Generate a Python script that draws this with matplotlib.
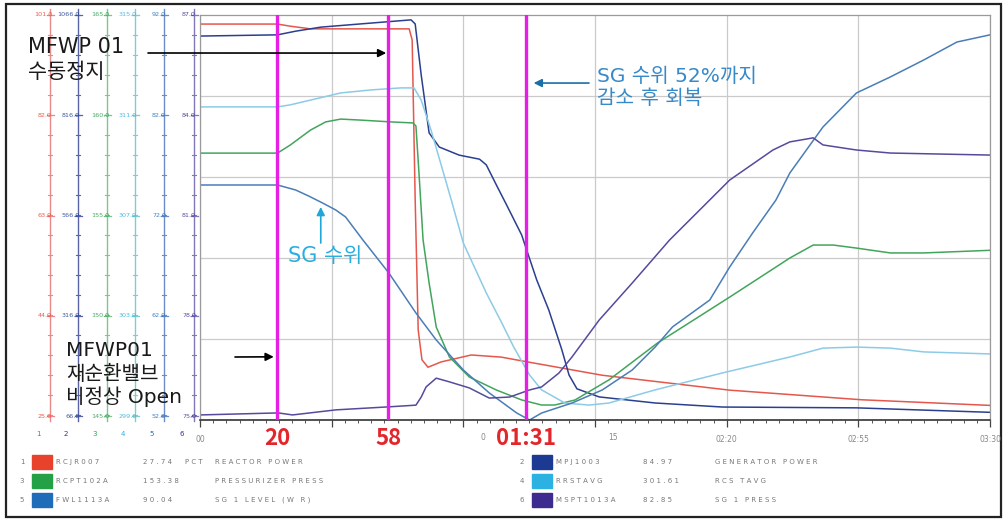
import numpy as np
import matplotlib
matplotlib.use("Agg")
import matplotlib.pyplot as plt
from matplotlib.patches import Rectangle
from matplotlib.transforms import blended_transform_factory

plt.rcParams['font.family'] = ['Noto Sans CJK KR', 'DejaVu Sans']
NOTE_FONT = ['DejaVu Sans', 'Noto Sans CJK KR']

# trend channels 1..6
chan_tag = ["RCJR007", "MPJ1003", "RCPT102A", "RRSTAVG", "FWL1113A", "MSPT1013A"]
chan_unit = ["PCT", "", "", "", "", ""]
chan_desc = ["REACTOR POWER", "GENERATOR POWER", "PRESSURIZER PRESS",
             "RCS TAVG", "SG 1 LEVEL (W R)", "SG 1 PRESS"]
scale_lo = [25.0, 66.0, 145.0, 299.0, 52.0, 75.0]
scale_hi = [101.0, 1066.0, 165.0, 315.0, 92.0, 87.0]
line_col = ["#e5574c", "#2b3f8f", "#43a45c", "#8ccbe6", "#4a7db6", "#564a9c"]
swatch_col = ["#e8412c", "#1d3a92", "#24a046", "#2bb1e2", "#1f6cb8", "#3e2b90"]
axis_col = ["#e88a8a", "#5a63a8", "#80c490", "#80cccc", "#6c8cc8", "#8078b8"]

# time in seconds from trend start
power_t = [0, 20.6, 24.0, 29.4, 55.6, 56.4, 57.2, 58.0, 59.0, 60.6, 64.1, 72.1, 80.1, 85.5,
           106.9, 140.8, 175.8, 210]
power = [99.3, 99.3, 98.9, 98.4, 98.4, 96.3, 66.3, 41.9, 36.3, 34.9, 35.9, 37.2, 36.8, 36.1,
         33.4, 30.6, 28.8, 27.74]

gen_t = [0, 20.6, 25.4, 32.1, 42.7, 52.1, 56.1, 57.2, 58.8, 60.9, 63.6, 68.9, 74.3, 76.1,
         78.8, 81.5, 85.5, 89.5, 92.7, 96.2, 98.1, 100.2, 106.1, 121.0, 138.9, 174.5, 210]
gen = [1014, 1017, 1026, 1036, 1044, 1051, 1054, 1044, 918, 775, 740, 720, 710, 696,
       646, 597, 523, 412, 338, 239, 177, 143, 123, 108, 98, 96, 84.97]

prz_t = [0, 20.6, 24.0, 29.4, 33.4, 37.4, 42.7, 50.8, 56.6, 57.4, 58.2, 59.3, 60.9, 62.8,
         66.3, 71.6, 78.8, 85.5, 90.8, 94.3, 99.7, 108.7, 121.6, 140.8, 156.8, 163.0, 168.3,
         174.5, 183.5, 192.4, 210]
prz = [158.18, 158.18, 158.58, 159.32, 159.72, 159.86, 159.81, 159.72, 159.67, 159.52,
       157.22, 153.89, 151.77, 149.59, 148.11, 147.12, 146.48, 145.99, 145.74, 145.74,
       145.99, 146.98, 148.80, 151.07, 153.00, 153.64, 153.64, 153.49, 153.25, 153.25, 153.38]

tavg_t = [0, 20.6, 24.0, 29.4, 37.4, 45.4, 53.4, 56.9, 58.8, 61.4, 64.1, 66.8, 70.0, 76.1,
          80.1, 83.4, 87.6, 90.8, 97.0, 103.4, 108.7, 121.0, 138.9, 156.8, 165.6, 174.5,
          183.5, 192.4, 210]
tavg = [311.37, 311.37, 311.45, 311.64, 311.92, 312.04, 312.12, 312.12, 311.64, 310.46,
        309.08, 307.69, 305.99, 304.02, 302.87, 301.88, 300.78, 300.19, 299.67, 299.59,
        299.67, 300.19, 300.86, 301.49, 301.84, 301.88, 301.84, 301.69, 301.61]

level_t = [0, 20.6, 25.4, 28.9, 32.6, 36.1, 38.7, 43.3, 50.2, 57.4, 62.8, 70.0, 76.9, 84.2,
           87.6, 90.8, 98.9, 106.9, 114.9, 121.0, 125.6, 135.5, 140.8, 146.9, 153.1, 156.8,
           165.6, 174.5, 183.5, 192.4, 201.2, 210]
level = [75.21, 75.21, 74.72, 74.12, 73.43, 72.74, 72.05, 69.78, 66.52, 62.57, 59.90, 56.94,
         54.67, 52.69, 52.0, 52.69, 53.68, 54.96, 56.94, 59.21, 61.19, 63.85, 67.11, 70.47,
         73.73, 76.40, 80.94, 84.30, 85.88, 87.56, 89.33, 90.04]

sgp_t = [0, 20.8, 24.6, 36.1, 50.2, 57.4, 58.8, 60.1, 62.8, 66.3, 71.6, 76.9, 82.3, 87.6,
         90.8, 95.4, 98.9, 106.1, 114.9, 124.8, 135.5, 140.8, 152.3, 156.8, 163.0, 165.6,
         174.5, 183.5, 210]
sgp = [75.15, 75.21, 75.15, 75.30, 75.39, 75.44, 75.68, 75.98, 76.24, 76.13, 75.95, 75.65,
       75.68, 75.89, 75.98, 76.39, 76.87, 77.96, 79.06, 80.33, 81.52, 82.11, 83.00, 83.24,
       83.36, 83.15, 83.00, 82.91, 82.85]

series_t = [power_t, gen_t, prz_t, tavg_t, level_t, sgp_t]
series_v = [power, gen, prz, tavg, level, sgp]

# event markers
event_pos = [20.6, 50.0, 86.6]
event_label = ["20", "58", "01:31"]

x_ticks = [0, 35, 70, 105, 140, 175, 210]
x_ticklabels = ["00", "", "", "", "02:20", "02:55", "03:30"]

W, H = 1008, 520
fig = plt.figure(figsize=(W / 100, H / 100), dpi=100)

# pixel-coordinate layer for frame, scales and legend
ov = fig.add_axes([0, 0, 1, 1], zorder=-1)
ov.set_xlim(0, W)
ov.set_ylim(H, 0)
ov.axis('off')
ov.add_patch(Rectangle((6, 4), 995, 513, fill=False, ec='#222222', lw=1.6))

# stacked y scales on the left
col_x = [50, 78, 107, 135, 164, 194]
row_y = np.linspace(15, 416, 5)
for i, x in enumerate(col_x):
    c = axis_col[i]
    ov.plot([x, x], [9, 421], color=c, lw=1.0)
    for y in np.arange(15, 420, 20):
        ov.plot([x - 2, x + 2], [y, y], color=c, lw=0.8)
    for k, y in enumerate(row_y):
        v = scale_hi[i] - k * (scale_hi[i] - scale_lo[i]) / 4
        ov.plot([x - 3.5, x + 3.5], [y, y], color=c, lw=0.9)
        ov.text(x + 2, y, f"{v:.1f}", ha='right', va='center', fontsize=4.6,
                color=swatch_col[i], family='DejaVu Sans', alpha=0.85)
    ov.text(x - 12, 434, str(i + 1), ha='center', va='center', fontsize=5,
            color=swatch_col[i], family='DejaVu Sans')

# legend table
legend_rows = [462, 481, 500]
groups = [(0, [0, 2, 4]), (500, [1, 3, 5])]
for dx, chans in groups:
    for y, ch in zip(legend_rows, chans):
        txt = dict(va='center', fontsize=5, color='#777777', family='DejaVu Sans')
        ov.text(22 + dx, y, str(ch + 1), ha='center', **txt)
        ov.add_patch(Rectangle((32 + dx, y - 7), 20, 14, color=swatch_col[ch]))
        ov.text(56 + dx, y, " ".join(chan_tag[ch]), ha='left', **txt)
        ov.text(143 + dx, y, " ".join(f"{series_v[ch][-1]:.2f}"), ha='left', **txt)
        if chan_unit[ch]:
            ov.text(185 + dx, y, " ".join(chan_unit[ch]), ha='left', **txt)
        ov.text(215 + dx, y, " ".join(chan_desc[ch]), ha='left', **txt)

# trend area
ax = fig.add_axes([200 / W, (H - 420) / H, 790 / W, 405 / H])
ax.set_xlim(0, 210)
ax.set_ylim(0, 1)
ax.set_xticks(x_ticks)
ax.set_xticklabels(x_ticklabels, fontsize=5.5, color='#888888', family='DejaVu Sans')
ax.set_xticks(np.arange(0, 210.01, 3.5), minor=True)
ax.set_yticks([0.2, 0.4, 0.6, 0.8])
ax.set_yticklabels([])
ax.tick_params(axis='x', which='major', direction='out', length=5, width=0.9,
               color='#444444', pad=6)
ax.tick_params(axis='x', which='minor', direction='out', length=2.5, width=0.7,
               color='#555555')
ax.tick_params(axis='y', length=0)
ax.grid(True, color='#cacaca', lw=0.9)
for s in ['top', 'right', 'left']:
    ax.spines[s].set_color('#9a9a9a')
    ax.spines[s].set_linewidth(0.9)
ax.spines['bottom'].set_color('#333333')
ax.spines['bottom'].set_linewidth(1.2)

for i in range(6):
    t = np.asarray(series_t[i])
    v = np.asarray(series_v[i])
    ax.plot(t, (v - scale_lo[i]) / (scale_hi[i] - scale_lo[i]),
            color=line_col[i], lw=1.1, zorder=2)

below = blended_transform_factory(ax.transData, ax.transAxes)
for t, lab in zip(event_pos, event_label):
    ax.axvline(t, color='#e61ee6', lw=2.4, zorder=3)
    ax.text(t, -0.045, lab, transform=below, ha='center', va='center', fontsize=16,
            fontweight='bold', color='#e3262b', clip_on=False)

# leftover fragments of the time labels
ax.text(75.3, -0.043, "0", transform=below, ha='center', va='center', fontsize=5.5,
        color='#888888', family='DejaVu Sans')
ax.text(109.8, -0.043, "15", transform=below, ha='center', va='center', fontsize=5.5,
        color='#888888', family='DejaVu Sans')

arrow = dict(arrowstyle='-|>', lw=1.2, mutation_scale=12, shrinkA=0, shrinkB=0)


def note(x, baselines, lines, size, color):
    # figure-level text placed in pixel coordinates, drawn above both axes
    for yb, s in zip(baselines, lines):
        fig.text(x, yb, s, transform=ov.transData, ha='left', va='baseline',
                 fontsize=size, color=color, family=NOTE_FONT)


note(28, [53, 78], ["MFWP 01", "수동정지"], 15, '#1a1a1a')
ax.annotate('', xy=(event_pos[1] - 0.5, 0.906), xytext=(148, 467), xycoords='data',
            textcoords='figure pixels', annotation_clip=False,
            arrowprops=dict(arrow, color='black'))

note(66, [356, 380, 403], ["MFWP01", "재순환밸브", "비정상 Open"], 14.5, '#1a1a1a')
ax.annotate('', xy=(event_pos[0] - 1.0, 0.156), xytext=(235, 163), xycoords='data',
            textcoords='figure pixels', annotation_clip=False,
            arrowprops=dict(arrow, color='black'))

note(288, [262], ["SG 수위"], 15, '#2aaee0')
ax.annotate('', xy=(32.1, 0.526), xytext=(32.1, 0.437),
            arrowprops=dict(arrow, color='#1fa7d8'))

note(597, [82, 104], ["SG 수위 52%까지", "감소 후 회복"], 14.5, '#3889c8')
ax.annotate('', xy=(event_pos[2] + 2.1, 0.832), xytext=(103.4, 0.832),
            arrowprops=dict(arrow, color='#1a6fa8'))

fig.savefig("out.png", dpi=100)
